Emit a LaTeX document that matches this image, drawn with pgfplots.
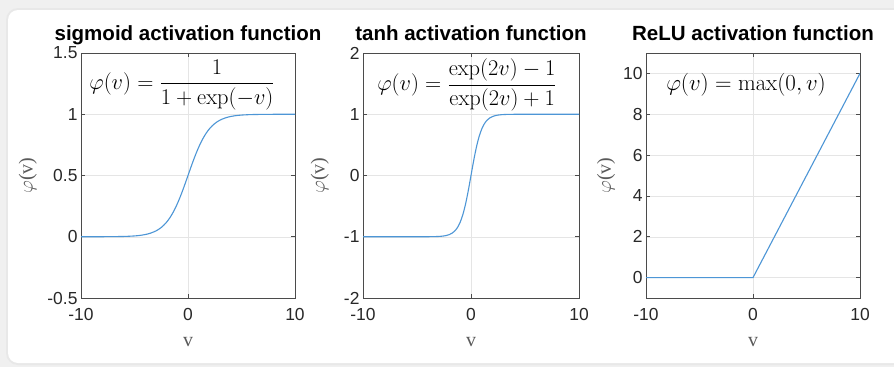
\RequirePackage{fix-cm}
\documentclass[border=0pt]{standalone}
\usepackage{pgfplots}
\pgfplotsset{compat=1.18}
\usepackage[no-math]{fontspec}
\setmainfont{Liberation Sans}
\newfontfamily\seriffont{Liberation Serif}
\definecolor{mblue}{RGB}{77,150,214}
\definecolor{axgray}{RGB}{75,75,75}
\definecolor{lblgray}{RGB}{40,40,40}
\definecolor{ylgray}{RGB}{90,90,90}
\pgfplotsset{
 mystyle/.style={
  scale only axis, height=245bp,
  anchor=south west,
  xmin=-10, xmax=10, xtick={-10,0,10},
  axis line style={axgray, line width=0.6bp},
  tick style={axgray, line width=0.6bp},
  major tick length=4bp, tick align=inside,
  grid=major, grid style={black!10, line width=0.5bp},
  /pgf/number format/assume math mode=true,
  tick label style={font=\fontsize{17.5}{20}\selectfont, text=lblgray},
  xticklabel style={yshift=-7bp},
  title style={font=\bfseries\fontsize{20.6}{24}\selectfont, at={(axis description cs:0.5,1)}, anchor=base, yshift=7bp, text=black},
  xlabel={v}, ylabel={$\varphi$(v)},
  label style={font=\seriffont\fontsize{20}{24}\selectfont, text=ylgray},
  xlabel style={at={(axis description cs:0.5,-0.18)}, anchor=center},
  cycle list={{mblue, mark=none}},
  every axis plot/.append style={line width=1.1bp},
 }
}
\begin{document}
\begin{tikzpicture}
\useasboundingbox (0,0) rectangle (894bp,-367bp);
\fill[black!6] (0,0) rectangle (894bp,-367bp);
\fill[black!9, rounded corners=12bp] (6bp,-8bp) rectangle (930bp,-365bp);
\fill[white, rounded corners=10bp] (8bp,-10bp) rectangle (930bp,-363bp);

% sigmoid
\begin{axis}[mystyle, at={(81bp,-298bp)}, width=214bp,
  ymin=-0.5, ymax=1.5, ytick={-0.5,0,0.5,1,1.5},
  title={sigmoid activation function},
  ylabel style={at={(axis description cs:-0.248,0.5)}, anchor=center}]
\addplot+[smooth] coordinates {
(-10,0.0000454) (-8,0.000335) (-6,0.002473) (-5,0.006693) (-4.5,0.010987) (-4,0.017986)
(-3.5,0.029312) (-3,0.047426) (-2.75,0.060087) (-2.5,0.075858) (-2.25,0.095349) (-2,0.119203)
(-1.75,0.148047) (-1.5,0.182426) (-1.25,0.222700) (-1,0.268941) (-0.75,0.320821) (-0.5,0.377541)
(-0.25,0.437823) (0,0.5) (0.25,0.562177) (0.5,0.622459) (0.75,0.679179) (1,0.731059)
(1.25,0.777300) (1.5,0.817574) (1.75,0.851953) (2,0.880797) (2.25,0.904651) (2.5,0.924142)
(2.75,0.939913) (3,0.952574) (3.5,0.970688) (4,0.982014) (4.5,0.989013) (5,0.993307)
(6,0.997527) (8,0.999665) (10,0.9999546)};
\node at (axis cs:-0.56,1.239) {\fontsize{22.5}{24}\selectfont $\displaystyle\varphi(v)=\frac{1}{1+\exp(-v)}$};
\end{axis}

% tanh
\begin{axis}[mystyle, at={(363bp,-298bp)}, width=216bp,
  ymin=-2, ymax=2, ytick={-2,-1,0,1,2},
  title={tanh activation function},
  ylabel style={at={(axis description cs:-0.2,0.5)}, anchor=center}]
\addplot+[smooth] coordinates {
(-10,-1) (-6,-0.999988) (-5,-0.999909) (-4,-0.999329) (-3.5,-0.998178) (-3,-0.995055)
(-2.75,-0.991815) (-2.5,-0.986614) (-2.25,-0.978026) (-2,-0.964028) (-1.75,-0.941376)
(-1.5,-0.905148) (-1.25,-0.848284) (-1,-0.761594) (-0.75,-0.635149) (-0.5,-0.462117)
(-0.25,-0.244919) (0,0) (0.25,0.244919) (0.5,0.462117) (0.75,0.635149) (1,0.761594)
(1.25,0.848284) (1.5,0.905148) (1.75,0.941376) (2,0.964028) (2.25,0.978026) (2.5,0.986614)
(2.75,0.991815) (3,0.995055) (3.5,0.998178) (4,0.999329) (5,0.999909) (6,0.999988) (10,1)};
\node at (axis cs:-0.37,1.478) {\fontsize{22.5}{24}\selectfont $\displaystyle\varphi(v)=\frac{\exp(2v)-1}{\exp(2v)+1}$};
\end{axis}

% ReLU
\begin{axis}[mystyle, at={(646bp,-298bp)}, width=214bp,
  ymin=-1, ymax=11, ytick={0,2,4,6,8,10},
  title={ReLU activation function},
  ylabel style={at={(axis description cs:-0.187,0.5)}, anchor=center}]
\addplot+[] coordinates {(-10,0) (0,0) (10,10)};
\node at (axis cs:-0.65,9.43) {\fontsize{23}{26}\selectfont $\varphi(v)=\max(0,v)$};
\end{axis}
\end{tikzpicture}
\end{document}
